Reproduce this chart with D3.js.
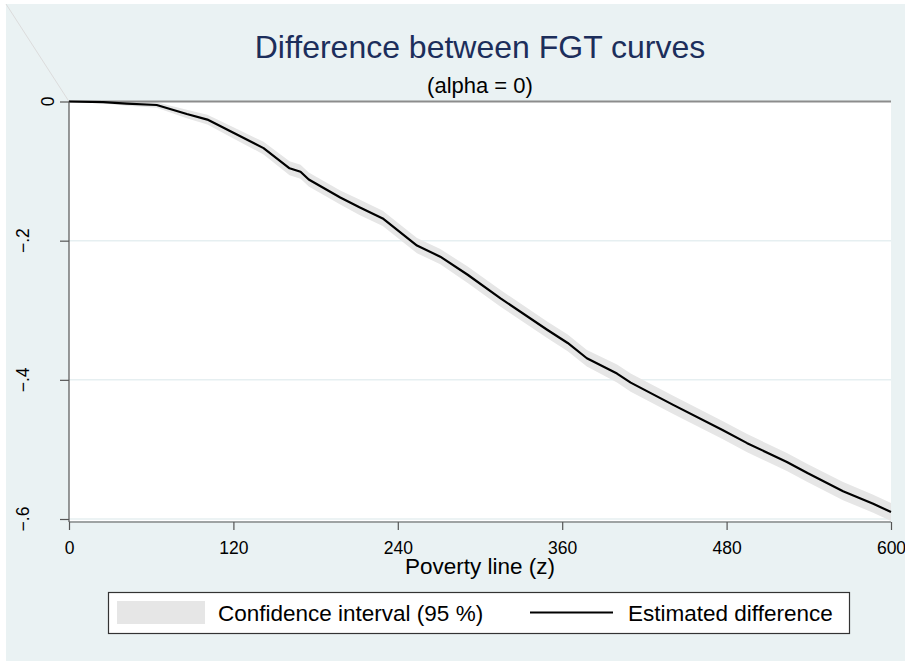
<!DOCTYPE html>
<html>
<head>
<meta charset="utf-8">
<script src="https://cdn.jsdelivr.net/npm/d3@7"></script>
<style>
  html, body { margin: 0; padding: 0; background: #ffffff; }
  svg { display: block; font-family: "Liberation Sans", Arial, Helvetica, sans-serif; }
</style>
</head>
<body>
<svg id="chart" width="905" height="662"></svg>
<script>
// ---- data ----
const povertyLine = [0, 25, 42, 64, 86, 101, 120, 142, 161, 169, 175, 198, 212, 229, 254, 271, 291, 315, 349, 364, 378, 400, 410, 441, 477, 495, 524, 539, 565, 587, 600];
const estDiff     = [0, -0.001, -0.003, -0.005, -0.018, -0.026, -0.045, -0.067, -0.096, -0.101, -0.112, -0.138, -0.152, -0.168, -0.207, -0.223, -0.249, -0.283, -0.328, -0.347, -0.369, -0.391, -0.404, -0.436, -0.472, -0.491, -0.518, -0.534, -0.560, -0.578, -0.590];
const ciUpper     = [0, 0.000, 0.000, -0.001, -0.012, -0.019, -0.037, -0.058, -0.086, -0.091, -0.102, -0.128, -0.141, -0.157, -0.196, -0.212, -0.237, -0.271, -0.316, -0.335, -0.357, -0.378, -0.391, -0.423, -0.459, -0.478, -0.505, -0.521, -0.547, -0.565, -0.577];
const ciLower     = [0, -0.003, -0.006, -0.009, -0.024, -0.033, -0.053, -0.076, -0.106, -0.111, -0.122, -0.148, -0.163, -0.179, -0.218, -0.234, -0.261, -0.295, -0.340, -0.359, -0.381, -0.404, -0.417, -0.449, -0.485, -0.504, -0.531, -0.547, -0.573, -0.591, -0.603];
const xTicks = [0, 120, 240, 360, 480, 600];
const yTicks = [0, -0.2, -0.4, -0.6];
const titleText = "Difference between FGT curves";
const subtitleText = "(alpha = 0)";
const xTitle = "Poverty line (z)";
const legendLabels = ["Confidence interval (95 %)", "Estimated difference"];

// ---- layout ----
const svg = d3.select("#chart");
const plotL = 69, plotR = 891, plotT = 101.5, plotB = 519, axisY = 522;

const x = d3.scaleLinear().domain([0, 600]).range([plotL, plotR]);
const y = d3.scaleLinear().domain([-0.6, 0]).range([plotB, plotT]);

const rows = povertyLine.map((p, i) => ({ p, est: estDiff[i], lo: ciLower[i], hi: ciUpper[i] }));

// outer graph region
svg.append("rect").attr("x", 6).attr("y", 4).attr("width", 899).attr("height", 657).attr("fill", "#eaf2f3");
// faint diagonal artifact
svg.append("line").attr("x1", 6).attr("y1", 4).attr("x2", plotL).attr("y2", plotT)
  .attr("stroke", "#dcdcdc").attr("stroke-width", 1);

// plot region
svg.append("rect").attr("x", plotL).attr("y", plotT).attr("width", plotR - plotL).attr("height", axisY - 1 - plotT)
  .attr("fill", "#ffffff");

// grid lines
svg.append("g").selectAll("line").data(yTicks.filter(d => d !== 0)).join("line")
  .attr("x1", plotL).attr("x2", plotR).attr("y1", d => y(d)).attr("y2", d => y(d))
  .attr("stroke", "#e6eff1").attr("stroke-width", 1.5);

// CI band
svg.append("path").datum(rows)
  .attr("fill", "#e6e6e6")
  .attr("d", d3.area().x(d => x(d.p)).y0(d => y(d.lo)).y1(d => y(d.hi)));

// reference line at 0
svg.append("line").attr("x1", plotL).attr("x2", plotR).attr("y1", y(0)).attr("y2", y(0))
  .attr("stroke", "#8c8c8c").attr("stroke-width", 2);

// estimated difference
svg.append("path").datum(rows)
  .attr("fill", "none").attr("stroke", "#000").attr("stroke-width", 2.2).attr("stroke-linejoin", "round")
  .attr("d", d3.line().x(d => x(d.p)).y(d => y(d.est)));

// y axis
const yAxis = svg.append("g").attr("transform", `translate(${plotL},0)`)
  .call(d3.axisLeft(y).tickValues(yTicks).tickSize(9).tickFormat(""));
yAxis.select(".domain").remove();
yAxis.selectAll(".tick line").attr("stroke", "#555").attr("stroke-width", 1.2);
svg.append("line").attr("x1", plotL).attr("x2", plotL).attr("y1", plotT).attr("y2", axisY)
  .attr("stroke", "#555").attr("stroke-width", 1.2);

const fmtY = d => d === 0 ? "0" : d3.format(".1f")(d).replace("0.", ".");
const ylab = svg.append("g").selectAll("text").data(yTicks).join("text")
  .attr("font-size", 17.5).attr("fill", "#000").attr("text-anchor", "middle")
  .text(fmtY);
ylab.each(function(d) {
  const w = this.getComputedTextLength();
  const bx = 71 - 1.7 * w;
  d3.select(this).attr("transform", `translate(${bx},${y(d)}) rotate(-90)`);
});

// x axis
const xAxis = svg.append("g").attr("transform", `translate(0,${axisY})`)
  .call(d3.axisBottom(x).tickValues(xTicks).tickSize(8).tickSizeOuter(0).tickFormat(d3.format("d")));
xAxis.select(".domain").attr("stroke", "#555").attr("stroke-width", 1.2)
  .attr("d", `M${plotL},0H${plotR}`);
xAxis.selectAll(".tick line").attr("stroke", "#555").attr("stroke-width", 1.2);
xAxis.selectAll(".tick text").attr("font-size", 17.5).attr("fill", "#000")
  .attr("font-family", "Liberation Sans, Arial, sans-serif")
  .attr("y", 32).attr("dy", 0);

// x title
svg.append("text").attr("x", (plotL + plotR) / 2).attr("y", 574).attr("text-anchor", "middle")
  .attr("font-size", 22.5).attr("fill", "#000").text(xTitle);

// titles
svg.append("text").attr("x", (plotL + plotR) / 2).attr("y", 58).attr("text-anchor", "middle")
  .attr("font-size", 32).attr("fill", "#1c2e5b").text(titleText);
svg.append("text").attr("x", (plotL + plotR) / 2).attr("y", 93).attr("text-anchor", "middle")
  .attr("font-size", 22).attr("fill", "#000").text(subtitleText);

// legend
const lg = svg.append("g");
lg.append("rect").attr("x", 108.5).attr("y", 592.5).attr("width", 741).attr("height", 41)
  .attr("fill", "#ffffff").attr("stroke", "#333").attr("stroke-width", 1.2);
lg.append("rect").attr("x", 117).attr("y", 601).attr("width", 88).attr("height", 23).attr("fill", "#e6e6e6");
lg.append("text").attr("x", 218).attr("y", 621).attr("font-size", 22.5).attr("fill", "#000").text(legendLabels[0]);
lg.append("line").attr("x1", 530).attr("x2", 613).attr("y1", 612.5).attr("y2", 612.5)
  .attr("stroke", "#000").attr("stroke-width", 2.2);
lg.append("text").attr("x", 628).attr("y", 621).attr("font-size", 22.5).attr("fill", "#000").text(legendLabels[1]);
</script>
</body>
</html>
